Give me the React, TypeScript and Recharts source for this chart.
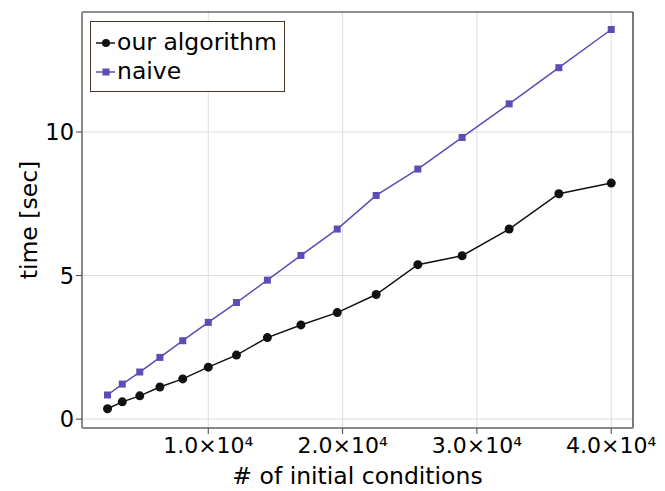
import { LineChart, Line, XAxis, YAxis, CartesianGrid, ReferenceLine } from "recharts";

// x: number of initial conditions
const conditions = [2500, 3600, 4900, 6400, 8100, 10000, 12100, 14400, 16900, 19600, 22500, 25600, 28900, 32400, 36100, 40000];
// time [sec]
const ourAlgorithm = [0.36, 0.6, 0.81, 1.12, 1.4, 1.81, 2.23, 2.84, 3.28, 3.71, 4.34, 5.38, 5.69, 6.62, 7.85, 8.22];
const naive = [0.84, 1.22, 1.64, 2.15, 2.73, 3.37, 4.06, 4.84, 5.7, 6.62, 7.79, 8.71, 9.81, 10.98, 12.24, 13.57];

const xTicks = [10000, 20000, 30000, 40000];
const xTickLabels = ["1.0×10⁴", "2.0×10⁴", "3.0×10⁴", "4.0×10⁴"];
const yTicks = [0, 5, 10];

const X_DOMAIN: [number, number] = [600, 41620];
const Y_DOMAIN: [number, number] = [-0.31, 14.18];

const FONT = "'DejaVu Sans', sans-serif";
const BLACK = "#111111";
const BLUE = "#5a4db3";

const data = conditions.map((x, i) => ({ x, ours: ourAlgorithm[i], naive: naive[i] }));

const series = [
  { key: "ours", name: "our algorithm", color: BLACK, marker: "circle" },
  { key: "naive", name: "naive", color: BLUE, marker: "square" },
];

function circleDot(props: any) {
  const { cx, cy, index } = props;
  return <circle key={`c-${index}`} cx={cx} cy={cy} r={4.5} fill={BLACK} stroke="none" />;
}

function squareDot(props: any) {
  const { cx, cy, index } = props;
  return <rect key={`s-${index}`} x={cx - 3.5} y={cy - 3.5} width={7} height={7} fill={BLUE} stroke="none" />;
}

function LegendBox() {
  return (
    <div
      style={{
        position: "absolute",
        left: 90,
        top: 21,
        width: 193,
        height: 69,
        border: "1px solid #4a3328",
        background: "#fff",
        fontFamily: FONT,
        fontSize: 23.5,
        color: "#000",
      }}
    >
      {series.map((s, i) => (
        <div key={s.key} style={{ position: "absolute", left: 5, top: 6 + i * 29, height: 29, display: "flex", alignItems: "center" }}>
          <svg width={20} height={14} style={{ marginRight: 1 }}>
            <line x1={0} y1={7} x2={19} y2={7} stroke={s.color} strokeWidth={1.5} />
            {s.marker === "circle" ? (
              <circle cx={10} cy={7} r={4} fill={s.color} />
            ) : (
              <rect x={6.5} y={3.5} width={7} height={7} fill={s.color} />
            )}
          </svg>
          <span style={{ lineHeight: "29px", whiteSpace: "nowrap" }}>{s.name}</span>
        </div>
      ))}
    </div>
  );
}

export default function App() {
  return (
    <div style={{ position: "absolute", left: 0, top: 0, width: 665, height: 491, background: "#fff" }}>
      <LineChart width={665} height={491} data={data} margin={{ top: 12, right: 32, bottom: 0, left: 0 }}>
        <CartesianGrid stroke="#dcdde2" strokeWidth={1} verticalValues={xTicks} horizontalValues={yTicks} />
        <XAxis
          dataKey="x"
          type="number"
          domain={X_DOMAIN}
          allowDataOverflow
          ticks={xTicks}
          tickFormatter={(v: number) => xTickLabels[xTicks.indexOf(v)] ?? String(v)}
          height={63}
          tickSize={6}
          tickMargin={3}
          axisLine={{ stroke: "#8a8a8a", strokeWidth: 2 }}
          tickLine={{ stroke: "#444" }}
          tick={{ fontSize: 22, fontFamily: FONT, fill: "#000" }}
          label={{
            content: (p: any) => {
              const vb = p.viewBox;
              return (
                <text x={vb.x + vb.width / 2} y={484} textAnchor="middle" fontSize={23.5} fontFamily={FONT} fill="#000">
                  # of initial conditions
                </text>
              );
            },
          }}
        />
        <YAxis
          type="number"
          domain={Y_DOMAIN}
          allowDataOverflow
          ticks={yTicks}
          width={82}
          tickSize={6}
          tickMargin={2}
          axisLine={{ stroke: "#8a8a8a", strokeWidth: 2 }}
          tickLine={{ stroke: "#444" }}
          tick={{ fontSize: 22.5, fontFamily: FONT, fill: "#000" }}
          label={{
            content: (p: any) => {
              const vb = p.viewBox;
              const cy = vb.y + vb.height / 2;
              return (
                <text x={37} y={cy} textAnchor="middle" fontSize={23.5} fontFamily={FONT} fill="#000" transform={`rotate(-90, 37, ${cy})`}>
                  time [sec]
                </text>
              );
            },
          }}
        />
        <ReferenceLine y={Y_DOMAIN[1]} stroke="#222" strokeWidth={1.2} ifOverflow="visible" />
        <ReferenceLine x={X_DOMAIN[1]} stroke="#222" strokeWidth={1.2} ifOverflow="visible" />
        <Line
          dataKey="naive"
          name="naive"
          stroke={BLUE}
          strokeWidth={1.5}
          dot={squareDot}
          activeDot={false}
          isAnimationActive={false}
        />
        <Line
          dataKey="ours"
          name="our algorithm"
          stroke={BLACK}
          strokeWidth={1.5}
          dot={circleDot}
          activeDot={false}
          isAnimationActive={false}
        />
      </LineChart>
      <LegendBox />
    </div>
  );
}
